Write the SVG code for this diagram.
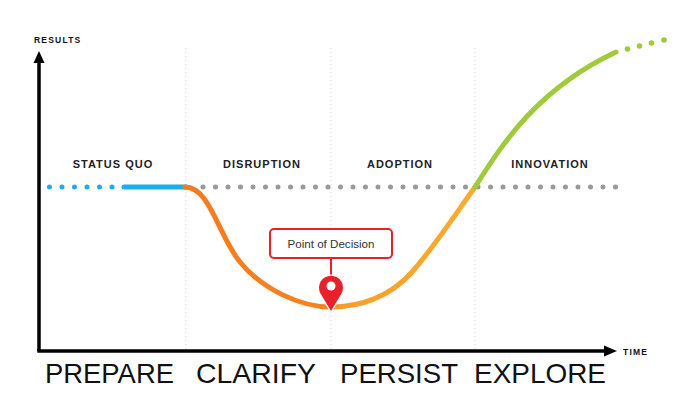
<svg xmlns="http://www.w3.org/2000/svg" width="700" height="420" viewBox="0 0 700 420">
<style>
.sep{stroke:#d4d4d4;stroke-width:1;stroke-dasharray:1 3;fill:none}
.axis{stroke:#000;stroke-width:3.5;fill:none}
.small{font-family:"Liberation Sans",Arial,sans-serif;font-weight:bold;font-size:8.5px;letter-spacing:1.2px;fill:#111}
.phase{font-family:"Liberation Sans",Arial,sans-serif;font-weight:bold;font-size:11px;letter-spacing:1px;fill:#222;text-anchor:middle}
.big{font-family:"Liberation Sans",Arial,sans-serif;font-size:28.5px;fill:#111}
.dots{fill:none;stroke-width:5;stroke-linecap:round;stroke-dasharray:0 12.5}
.curve{fill:none;stroke-width:5;stroke-linecap:round}
</style>
<defs>
<linearGradient id="og" gradientUnits="userSpaceOnUse" x1="185" y1="0" x2="475" y2="0">
<stop offset="0" stop-color="#F47A20"/>
<stop offset="0.47" stop-color="#F5841F"/>
<stop offset="0.55" stop-color="#F89E29"/>
<stop offset="1" stop-color="#FAAC30"/>
</linearGradient>
</defs>
<rect width="700" height="420" fill="#fff"/>
<g id="separators">
<line class="sep" x1="186" y1="48" x2="186" y2="349"/>
<line class="sep" x1="331" y1="48" x2="331" y2="349"/>
<line class="sep" x1="475" y1="48" x2="475" y2="349"/>
</g>
<g id="axes">
<line class="axis" x1="39" y1="62" x2="39" y2="351"/>
<polygon points="39,51 33.5,63 44.5,63" fill="#000"/>
<line class="axis" x1="37.3" y1="351" x2="605" y2="351"/>
<polygon points="617,351 604,345.5 604,356.5" fill="#000"/>
<text class="small" x="34" y="43">RESULTS</text>
<text class="small" x="623" y="355">TIME</text>
</g>
<g id="connectors">
<line class="dots" x1="49.5" y1="187" x2="113" y2="187" stroke="#1AAEEA"/>
<line x1="124" y1="187" x2="186" y2="187" stroke="#1AAEEA" stroke-width="5" stroke-linecap="round"/>
<line class="dots" x1="203" y1="187" x2="617" y2="187" stroke="#999"/>
<path class="curve" stroke="url(#og)" d="M185,187 C210,187 218,235 240,262 C262,289 300,307 331,307 C360,307 390,297 412,272 C434,247 457,212 475,187"/>
<path class="curve" stroke="#9FCB3A" d="M475,187 C500,148 535,90 616,52"/>
<g fill="#9FCB3A">
<circle cx="627.5" cy="49" r="2.8"/>
<circle cx="639.5" cy="46" r="2.8"/>
<circle cx="651.5" cy="43" r="2.8"/>
<circle cx="664" cy="40" r="2.8"/>
</g>
</g>
<g id="phase-labels">
<text class="phase" x="113" y="168">STATUS QUO</text>
<text class="phase" x="262" y="168">DISRUPTION</text>
<text class="phase" x="400" y="168">ADOPTION</text>
<text class="phase" x="550" y="168">INNOVATION</text>
</g>
<g id="decision">
<line x1="331" y1="258" x2="331" y2="278" stroke="#E8202A" stroke-width="2"/>
<rect x="270" y="229" width="122" height="29" rx="4" fill="#fff" stroke="#E8202A" stroke-width="2"/>
<text x="331" y="248" text-anchor="middle" font-family="'Liberation Sans',Arial,sans-serif" font-size="11.6" fill="#333">Point of Decision</text>
<path d="M331,311 L320.5,293.5 A12,12 0 1 1 341.5,293.5 Z" fill="#E8202A" stroke="#fff" stroke-width="2.5" stroke-linejoin="round" paint-order="stroke"/>
<circle cx="331" cy="286" r="4.5" fill="#fff"/>
</g>
<g id="stages">
<text class="big" x="45" y="383" textLength="129" lengthAdjust="spacingAndGlyphs">PREPARE</text>
<text class="big" x="196" y="383" textLength="120" lengthAdjust="spacingAndGlyphs">CLARIFY</text>
<text class="big" x="340" y="383" textLength="118" lengthAdjust="spacingAndGlyphs">PERSIST</text>
<text class="big" x="474" y="383" textLength="132" lengthAdjust="spacingAndGlyphs">EXPLORE</text>
</g>
</svg>
